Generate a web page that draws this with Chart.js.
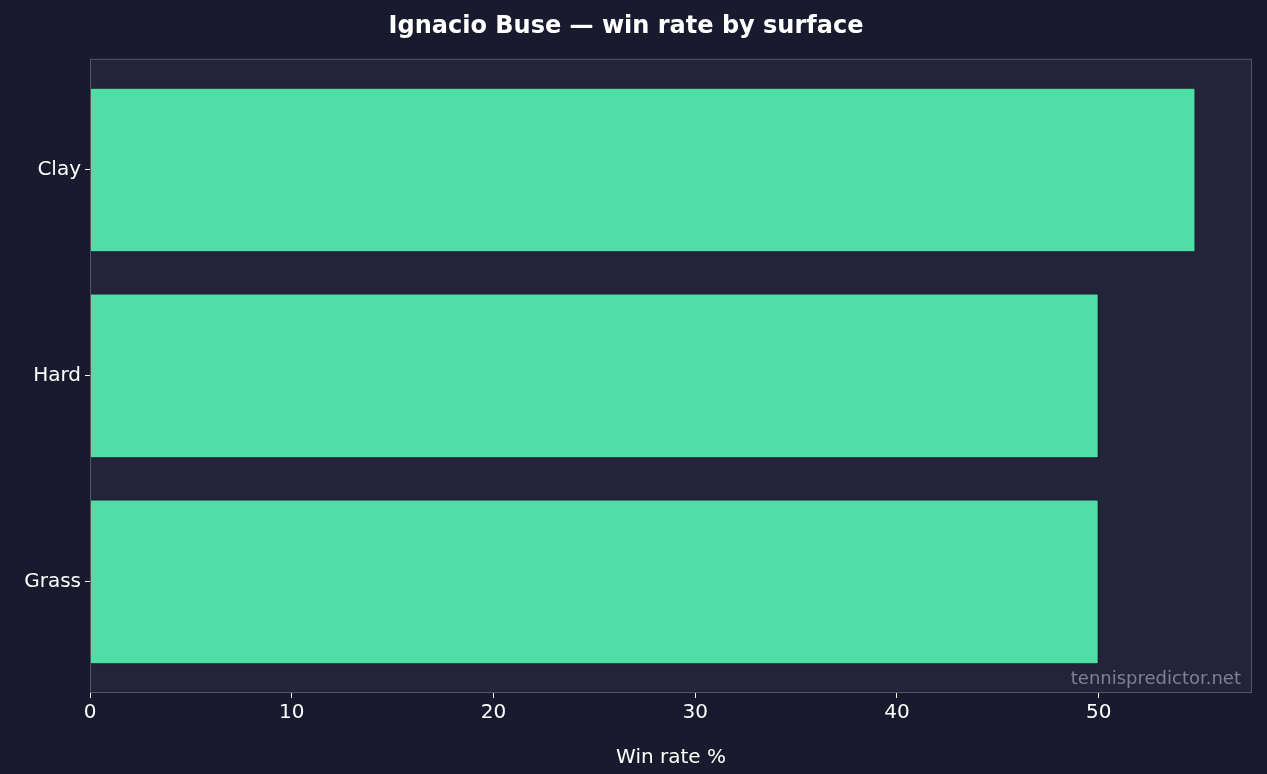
<!DOCTYPE html>
<html>
<head>
<meta charset="utf-8">
<script src="https://cdn.jsdelivr.net/npm/chart.js@4"></script>
<style>
  html, body { margin: 0; padding: 0; background: #1a1a2e; }
  #wrap { width: 1267px; height: 774px; }
</style>
</head>
<body>
<div id="wrap"><canvas id="chart"></canvas></div>
<script>
'use strict';

const surfaces = ['Clay', 'Hard', 'Grass'];
const winRates = [54.8, 50.0, 50.0];
const xTicks = [0, 10, 20, 30, 40, 50];

const FONT = "'DejaVu Sans', sans-serif";

// Backgrounds, plot frame and watermark
const backdrop = {
    id: 'backdrop',
    beforeDraw(chart) {
        const { ctx, chartArea: a } = chart;
        ctx.save();
        ctx.fillStyle = '#1a1a2e';
        ctx.fillRect(0, 0, chart.width, chart.height);
        ctx.fillStyle = '#232339';
        ctx.fillRect(a.left, a.top, a.right - a.left, a.bottom - a.top);
        ctx.restore();
    },
    afterDraw(chart) {
        const { ctx, chartArea: a } = chart;
        ctx.save();
        ctx.strokeStyle = '#555560';
        ctx.lineWidth = 1;
        ctx.strokeRect(a.left + 0.5, a.top + 0.5, a.right - a.left - 1, a.bottom - a.top - 1);
        ctx.fillStyle = 'rgba(160,160,175,0.75)';
        ctx.font = '18px ' + FONT;
        ctx.textAlign = 'right';
        ctx.textBaseline = 'bottom';
        ctx.fillText('tennispredictor.net', a.right - 11, a.bottom - 5);
        ctx.restore();
    },
};

new Chart(document.getElementById('chart'), {
    type: 'bar',
    data: {
        datasets: [{
            data: winRates.map((v, i) => ({ x: v, y: i })),
            backgroundColor: '#4fdea6',
            borderColor: '#15152a',
            borderWidth: 1,
            categoryPercentage: 1,
            barPercentage: 0.8,
        }],
    },
    options: {
        indexAxis: 'y',
        responsive: true,
        maintainAspectRatio: false,
        animation: false,
        layout: { padding: { left: 0, right: 15, top: 0, bottom: 0 } },
        plugins: {
            legend: { display: false },
            tooltip: { enabled: false },
            title: {
                display: true,
                text: 'Ignacio Buse — win rate by surface',
                color: '#ffffff',
                font: { family: FONT, size: 24, weight: 'bold' },
                padding: { top: 12, bottom: 18 },
            },
        },
        scales: {
            x: {
                type: 'linear',
                min: 0,
                max: 57.6,
                afterBuildTicks: axis => { axis.ticks = xTicks.map(v => ({ value: v })); },
                grid: { drawOnChartArea: false, drawTicks: true, tickLength: 5, color: '#ffffff' },
                border: { display: false },
                ticks: { color: '#ffffff', font: { family: FONT, size: 20 }, padding: 3 },
                title: { display: true, text: 'Win rate %', color: '#ffffff', font: { family: FONT, size: 20 }, padding: { top: 2 } },
                afterFit: axis => { axis.height = 81; },
            },
            y: {
                type: 'linear',
                reverse: true,
                offset: false,
                min: -0.54,
                max: 2.54,
                afterBuildTicks: axis => { axis.ticks = surfaces.map((_, i) => ({ value: i })); },
                grid: { offset: false, drawOnChartArea: false, drawTicks: true, tickLength: 5, color: '#ffffff' },
                border: { display: false },
                ticks: {
                    color: '#ffffff',
                    font: { family: FONT, size: 20 },
                    padding: 4,
                    callback: v => surfaces[v] ?? '',
                },
                afterFit: axis => { axis.width = 90; },
            },
        },
    },
    plugins: [backdrop],
});
</script>
</body>
</html>
